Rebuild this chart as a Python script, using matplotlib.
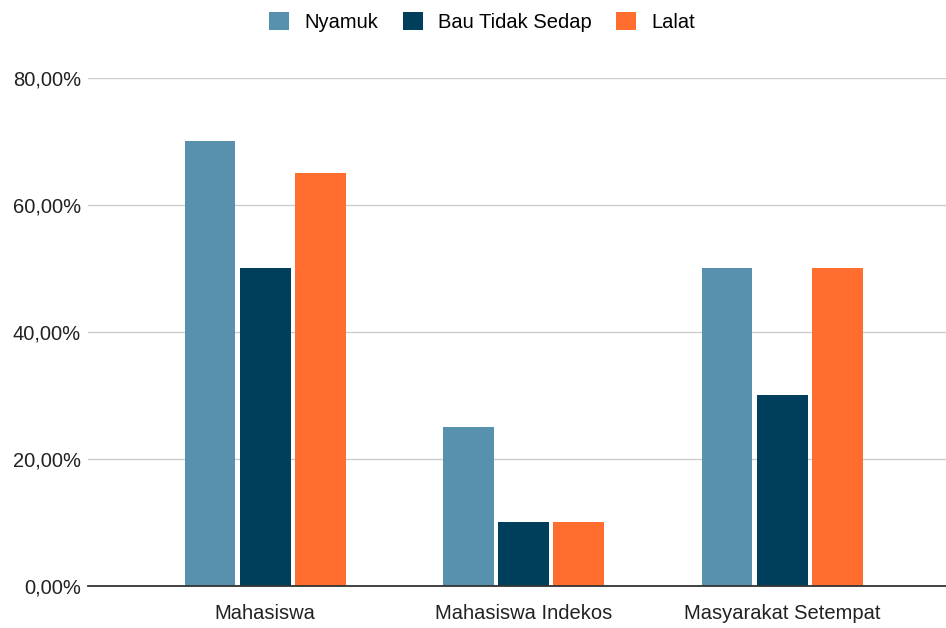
import matplotlib
matplotlib.use("Agg")
import matplotlib.pyplot as plt
import numpy as np
from matplotlib.ticker import FuncFormatter

categories = ["Mahasiswa", "Mahasiswa Indekos", "Masyarakat Setempat"]
series_names = ["Nyamuk", "Bau Tidak Sedap", "Lalat"]
nyamuk = [70, 25, 50]
bau = [50, 10, 30]
lalat = [65, 10, 50]
colors = ["#5791AD", "#003F5C", "#FF6E2F"]

plt.rcParams['font.family'] = ['Liberation Sans', 'DejaVu Sans']
fs = 14.5

fig = plt.figure(figsize=(9.46, 6.28), dpi=100)
ax = fig.add_axes([0.093, 0.0669, 0.907, 0.8089])

x = np.arange(len(categories))
w = 0.197
step = 0.213
for i, (vals, name, c) in enumerate(zip([nyamuk, bau, lalat], series_names, colors)):
    ax.bar(x + (i - 1) * step, vals, width=w, color=c, label=name, zorder=3)

ax.set_xlim(-0.685, 2.634)
ax.set_ylim(0, 80)
ax.set_yticks([0, 20, 40, 60, 80])
ax.yaxis.set_major_formatter(FuncFormatter(lambda v, p: f"{v:.2f}%".replace(".", ",")))
ax.set_xticks(x)
ax.set_xticklabels(categories)
ax.grid(axis='y', color='#cccccc', linewidth=1, zorder=0)
for s in ['top', 'right', 'left']:
    ax.spines[s].set_visible(False)
ax.spines['bottom'].set_color('#333333')
ax.spines['bottom'].set_linewidth(1.3)
ax.spines['bottom'].set_zorder(4)
ax.tick_params(axis='both', length=0, labelsize=fs, colors='#222222')
ax.tick_params(axis='y', pad=5)
ax.tick_params(axis='x', pad=13)

fig.legend(loc='upper center', bbox_to_anchor=(0.5095, 1.0), ncol=3, frameon=False,
           fontsize=fs, handlelength=1.0, handleheight=1.0, columnspacing=1.2,
           handletextpad=0.75, borderaxespad=0.2)

fig.savefig("out.png", dpi=100)
